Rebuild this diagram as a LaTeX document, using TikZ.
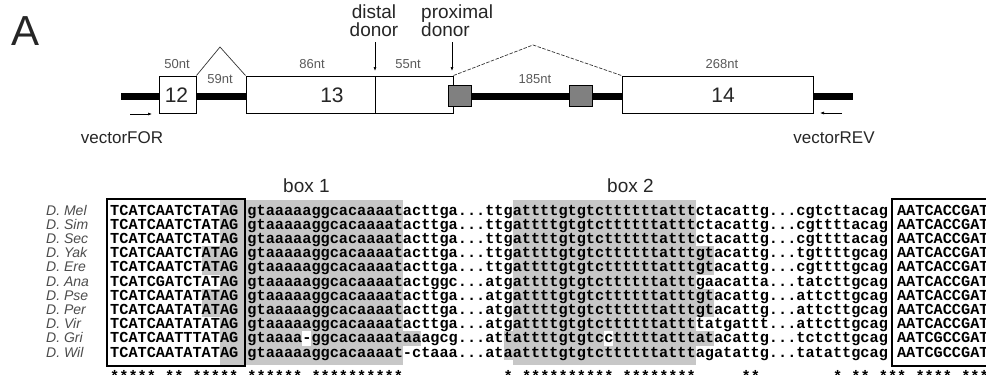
\documentclass[tikz,border=0pt]{standalone}
\usepackage{fontspec}
\setmainfont{Liberation Sans}
\newfontfamily\monofam{Liberation Mono}
\usetikzlibrary{arrows.meta,positioning}

\newcommand\seqfont{\monofam\bfseries\fontsize{15.25}{16}\selectfont}

\begin{document}
\begin{tikzpicture}[
  x=1pt, y=-1pt,
  exon/.style={draw, line width=1pt, fill=white, inner sep=0pt, minimum height=37pt},
  ss/.style={draw, line width=0.8pt, fill=black!50, minimum width=23pt, minimum height=21pt, inner sep=0pt},
  num/.style={font=\fontsize{21}{21}\selectfont, text=black!85, inner sep=0pt},
  len/.style={font=\fontsize{13}{13}\selectfont, text=black!65, anchor=base, inner sep=0pt},
  lbl/.style={font=\fontsize{19}{18}\selectfont, text=black!85, inner sep=0pt},
  arr/.style={-{Latex[length=4pt,width=3pt]}, line width=0.6pt},
  intron/.style={line width=0.7pt, black!80},
  seq/.style={font=\seqfont, anchor=base west, inner sep=0pt},
  spc/.style={font=\fontsize{14}{14}\selectfont\itshape, text=black!70, anchor=base west, inner sep=0pt},
  shade/.style={fill=black!22},
  hole/.style={fill=white}
]
\useasboundingbox (0,0) rectangle (986,375);
\clip (0,0) rectangle (986,375);

\node[font=\fontsize{42}{42}\selectfont, text=black!85, anchor=base west, inner sep=0pt] (panel) at (11,45) {A};

% gene model
\coordinate (bbL) at (121,96.5);
\coordinate (bbR) at (853,96.5);
\draw[line width=7pt] (bbL) -- (bbR);
\node[exon, minimum width=37pt] (ex12) at (177.5,94.5) {};
\node[exon, minimum width=207pt] (ex13) at (349.5,94.5) {};
\node[exon, minimum width=191pt] (ex14) at (717.5,94.5) {};
\draw[line width=0.8pt] (375,76) -- (375,113);
\node[ss] (ss1) at (459.5,95.5) {};
\node[ss] (ss2) at (580.5,95.5) {};
\node[num] (t12) at (176.5,95.5) {12};
\node[num] (t13) at (332,95.5) {13};
\node[num] (t14) at (723,95.5) {14};

\coordinate (pk1) at (220,47);
\coordinate (pk2) at (533,45);
\draw[intron] (ex12.north east) -- (pk1) -- (ex13.north west);
\draw[intron, dash pattern=on 3.5pt off 1.5pt] (ex13.north east) -- (pk2) -- (ex14.north west);

\node[len] (l50) at (177,68) {50nt};
\node[len] (l59) at (220,83) {59nt};
\node[len] (l86) at (312,68) {86nt};
\node[len] (l55) at (408,68) {55nt};
\node[len] (l185) at (535,83) {185nt};
\node[len] (l268) at (722,68) {268nt};

\node[lbl, align=center, anchor=south] (dist) at (374,37) {distal\\donor};
\node[lbl, align=left, anchor=south west] (prox) at (421,37) {proximal\\donor};
\coordinate (dTop) at (375,42);
\coordinate (dTip) at (375,71);
\coordinate (pTop) at (452,42);
\coordinate (pTip) at (452,71);
\draw[arr] (dTop) -- (dTip);
\draw[arr] (pTop) -- (pTip);

\coordinate (fA) at (130,114);
\coordinate (fB) at (152,114);
\coordinate (rA) at (842,113);
\coordinate (rB) at (820,113);
\draw[arr] (fA) -- (fB);
\draw[arr] (rA) -- (rB);
\node[lbl, font=\fontsize{17}{17}\selectfont, anchor=base] (vfor) at (122,143) {vectorFOR};
\node[lbl, font=\fontsize{17}{17}\selectfont, anchor=base] (vrev) at (834,143) {vectorREV};

% alignment
\node[lbl, anchor=base west] (box1) at (283,192) {box 1};
\node[lbl, anchor=base west] (box2) at (607,192) {box 2};

\fill[shade] (219.8,200) rectangle (402.8,365);
\foreach \r in {3,4,6,7}
  \fill[shade] (201.5,{203.5+14.2*\r}) rectangle (219.8,{217.7+14.2*\r});
\fill[shade] (402.8,331.3) rectangle (421.1,345.5);
\fill[shade] (512.6,200) rectangle (695.6,365);
\foreach \r in {3,4,6,7,9}
  \fill[shade] (695.6,{203.5+14.2*\r}) rectangle (713.9,{217.7+14.2*\r});
\foreach \r in {9,10}
  \fill[shade] (503.5,{203.5+14.2*\r}) rectangle (512.6,{217.7+14.2*\r});
\fill[hole] (302.2,331.3) rectangle (311.3,345.5);
\fill[hole] (604.1,331.3) rectangle (613.3,345.5);

\foreach \n [count=\i from 0] in {D. Mel,D. Sim,D. Sec,D. Yak,D. Ere,D. Ana,D. Pse,D. Per,D. Vir,D. Gri,D. Wil}
  \node[spc] (sp\i) at (46,{215+14.2*\i}) {\n};

\node[seq] (sMel) at (110,215) {TCATCAATCTATAG gtaaaaaggcacaaaatacttga...ttgattttgtgtcttttttatttctacattg...cgtcttacag AATCACCGAT};
\node[seq] (sSim) at (110,229.2) {TCATCAATCTATAG gtaaaaaggcacaaaatacttga...ttgattttgtgtcttttttatttctacattg...cgttttacag AATCACCGAT};
\node[seq] (sSec) at (110,243.4) {TCATCAATCTATAG gtaaaaaggcacaaaatacttga...ttgattttgtgtcttttttatttctacattg...cgttttacag AATCACCGAT};
\node[seq] (sYak) at (110,257.6) {TCATCAATCTATAG gtaaaaaggcacaaaatacttga...ttgattttgtgtcttttttatttgtacattg...tgttttgcag AATCACCGAT};
\node[seq] (sEre) at (110,271.8) {TCATCAATCTATAG gtaaaaaggcacaaaatacttga...ttgattttgtgtcttttttatttgtacattg...cgttttgcag AATCACCGAT};
\node[seq] (sAna) at (110,286) {TCATCGATCTATAG gtaaaaaggcacaaaatactggc...atgattttgtgtcttttttatttgaacatta...tatcttgcag AATCACCGAT};
\node[seq] (sPse) at (110,300.2) {TCATCAATATATAG gtaaaaaggcacaaaatacttga...atgattttgtgtcttttttatttgtacattg...attcttgcag AATCACCGAT};
\node[seq] (sPer) at (110,314.4) {TCATCAATATATAG gtaaaaaggcacaaaatacttga...atgattttgtgtcttttttatttgtacattg...attcttgcag AATCACCGAT};
\node[seq] (sVir) at (110,328.6) {TCATCAATATATAG gtaaaaaggcacaaaatacttga...atgattttgtgtcttttttattttatgattt...attcttgcag AATCACCGAT};
\node[seq] (sGri) at (110,342.8) {TCATCAATTTATAG gtaaaa-ggcacaaaataaagcg...attattttgtgtcctttttatttatacattg...tctcttgcag AATCGCCGAT};
\node[seq] (sWil) at (110,357) {TCATCAATATATAG gtaaaaaggcacaaaat-ctaaa...ataattttgtgtcttttttatttagatattg...tatattgcag AATCGCCGAT};
\node[seq] (cons) at (110,381) {*****~**~*****~******~**********~~~~~~~~~~~*~**********~********~~~~~**~~~~~~~~*~**~***~****~*****};

\draw[line width=1.3pt] (107,199) rectangle (245,366);
\draw[line width=1.5pt] (892,199) rectangle (1000,366);
\end{tikzpicture}
\end{document}
